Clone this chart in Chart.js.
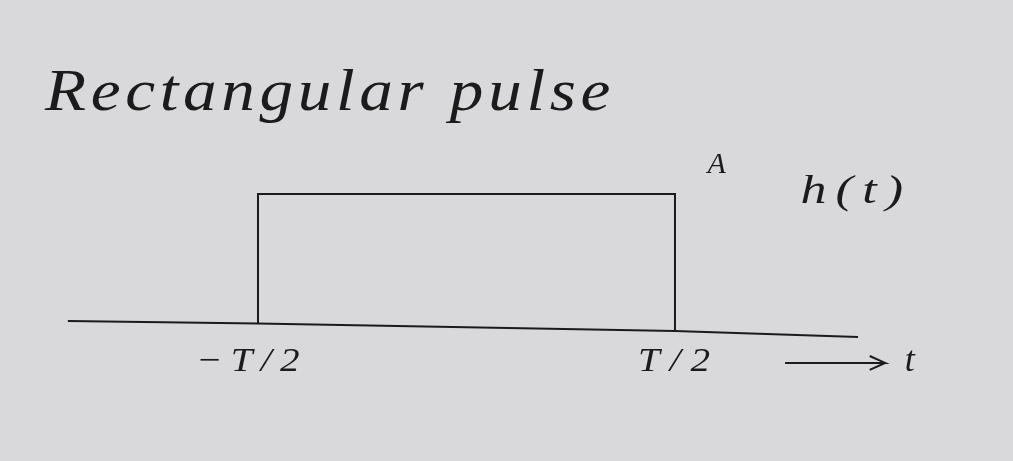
<!DOCTYPE html>
<html>
<head>
<meta charset="utf-8">
<script src="https://cdn.jsdelivr.net/npm/chart.js@4.4.0/dist/chart.umd.min.js"></script>
<style>
  html, body { margin: 0; padding: 0; background: #d9d9db; }
  #wrap { width: 1013px; height: 461px; position: relative; }
</style>
</head>
<body>
<div id="wrap"><canvas id="pulseChart"></canvas></div>
<script>
// time in units of T, amplitude in units of A
const pulseX = [-0.5, -0.5, 0.5, 0.5];
const pulseY = [0.02, 1.0, 1.0, -0.04];
const axisX = [-0.956, -0.5, 0.5, 0.939];
const axisY = [0.038, 0.019, -0.038, -0.083];
const arrowX = [0.764, 1.004, 0.967, 1.004, 0.967];
const arrowY = [-0.28, -0.28, -0.227, -0.28, -0.333];
const tickVals = [-0.5, 0.5];
const tickLabels = ['\u2212T/2', 'T/2'];
const titleText = 'Rectangular pulse';

const ink = '#1b1b1b';
const hand = '"Liberation Serif", "DejaVu Serif", serif';

function pts(xs, ys) {
    return xs.map((x, i) => ({ x: x, y: ys[i] }));
}

// fit text to a width: stretch a little, make up the rest with spacing
function fitText(ctx, txt, x, y, width, stretch, align) {
    ctx.letterSpacing = '0px';
    const w = ctx.measureText(txt).width * stretch;
    const sp = Math.max(0, (width - w) / (txt.length * stretch));
    ctx.save();
    ctx.letterSpacing = sp + 'px';
    ctx.textAlign = 'left';
    const x0 = align === 'center' ? x - width / 2 : x;
    ctx.translate(x0, y);
    ctx.scale(stretch, 1);
    ctx.fillText(txt, 0, 0);
    ctx.restore();
}

const sketchText = {
    id: 'sketchText',
    afterDraw(chart) {
        const ctx = chart.ctx;
        const xs = chart.scales.x;
        const ys = chart.scales.y;
        ctx.save();
        ctx.fillStyle = ink;
        ctx.textBaseline = 'middle';

        ctx.font = 'italic 60px ' + hand;
        fitText(ctx, titleText, 45, 94, 570, 1.12, 'left');

        // labels under the edges of the pulse
        ctx.font = 'italic 34px ' + hand;
        fitText(ctx, tickLabels[0], xs.getPixelForValue(tickVals[0]) - 6, ys.getPixelForValue(-0.27), 112, 1.15, 'center');
        fitText(ctx, tickLabels[1], xs.getPixelForValue(tickVals[1]) + 4, ys.getPixelForValue(-0.27), 82, 1.15, 'center');

        ctx.font = 'italic 30px ' + hand;
        ctx.textAlign = 'center';
        ctx.fillText('A', xs.getPixelForValue(0.6), ys.getPixelForValue(1.22));
        ctx.font = 'italic 40px ' + hand;
        fitText(ctx, 'h(t)', xs.getPixelForValue(0.935), ys.getPixelForValue(1.01), 112, 1.3, 'center');
        ctx.font = 'italic 36px ' + hand;
        ctx.textAlign = 'center';
        ctx.fillText('t', xs.getPixelForValue(1.063), ys.getPixelForValue(-0.27));
        ctx.restore();
    }
};

new Chart(document.getElementById('pulseChart'), {
    type: 'line',
    data: {
        datasets: [
            { label: 'h(t)', data: pts(pulseX, pulseY) },
            { label: 'axis', data: pts(axisX, axisY) },
            { label: 't', data: pts(arrowX, arrowY) }
        ]
    },
    options: {
        responsive: true,
        maintainAspectRatio: false,
        animation: false,
        layout: { padding: 0 },
        elements: {
            line: { borderColor: ink, borderWidth: 2, tension: 0, fill: false },
            point: { radius: 0, hoverRadius: 0 }
        },
        scales: {
            x: { type: 'linear', min: -1.1187, max: 1.3106, display: false },
            y: { type: 'linear', min: -1.0227, max: 2.4697, display: false }
        },
        plugins: {
            legend: { display: false },
            tooltip: { enabled: false },
            title: { display: false }
        }
    },
    plugins: [sketchText]
});
</script>
</body>
</html>
